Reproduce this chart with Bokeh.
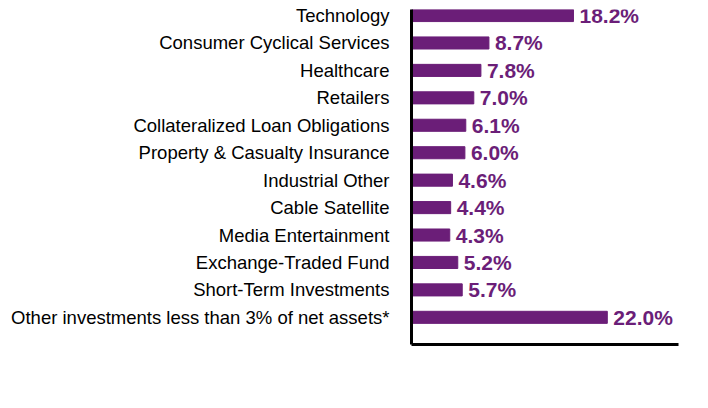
from bokeh.plotting import figure
from bokeh.models import FixedTicker, ColumnDataSource, Range1d
from bokeh.embed import file_html
from bokeh.resources import INLINE
from bokeh.core.properties import value

categories = [
    "Technology",
    "Consumer Cyclical Services",
    "Healthcare",
    "Retailers",
    "Collateralized Loan Obligations",
    "Property & Casualty Insurance",
    "Industrial Other",
    "Cable Satellite",
    "Media Entertainment",
    "Exchange-Traded Fund",
    "Short-Term Investments",
    "Other investments less than 3% of net assets*",
]
values = [18.2, 8.7, 7.8, 7.0, 6.1, 6.0, 4.6, 4.4, 4.3, 5.2, 5.7, 22.0]
value_labels = [f"{v:.1f}%" for v in values]

PURPLE = "#6B1E78"
FONT = "Liberation Sans"

n = len(categories)
ys = [n - 1 - i for i in range(n)]
src = ColumnDataSource(dict(y=ys, v=values, lbl=value_labels, cat=categories))

p = figure(
    width=708, height=408, output_backend="svg", toolbar_location=None,
    x_range=Range1d(0, 30), y_range=Range1d(-0.99, 11.22),
    min_border_left=411, min_border_right=30, min_border_top=9, min_border_bottom=64,
)
p.background_fill_color = "white"
p.border_fill_color = "white"
p.outline_line_color = None
p.grid.visible = False

p.hbar(y="y", left=0, right="v", height=0.44, color=PURPLE, source=src)
p.text(x="v", y="y", text="lbl", x_offset=6, text_align="left", text_baseline="middle",
       text_font_size="21px", text_font_style="bold", text_color=PURPLE,
       text_font=value(FONT), source=src)

p.yaxis.ticker = FixedTicker(ticks=ys)
p.yaxis.major_label_overrides = {y: c for y, c in zip(ys, categories)}
p.yaxis.major_tick_line_color = None
p.yaxis.minor_tick_line_color = None
p.yaxis.axis_line_width = 3
p.yaxis.axis_line_color = "black"
p.yaxis.major_label_text_font = FONT
p.yaxis.major_label_text_font_size = "18.5px"
p.yaxis.major_label_text_color = "black"
p.yaxis.major_label_standoff = 16

p.xaxis.ticker = FixedTicker(ticks=[])
p.xaxis.major_tick_line_color = None
p.xaxis.minor_tick_line_color = None
p.xaxis.axis_line_width = 3
p.xaxis.axis_line_color = "black"

open("out.html", "w").write(file_html(p, INLINE))
